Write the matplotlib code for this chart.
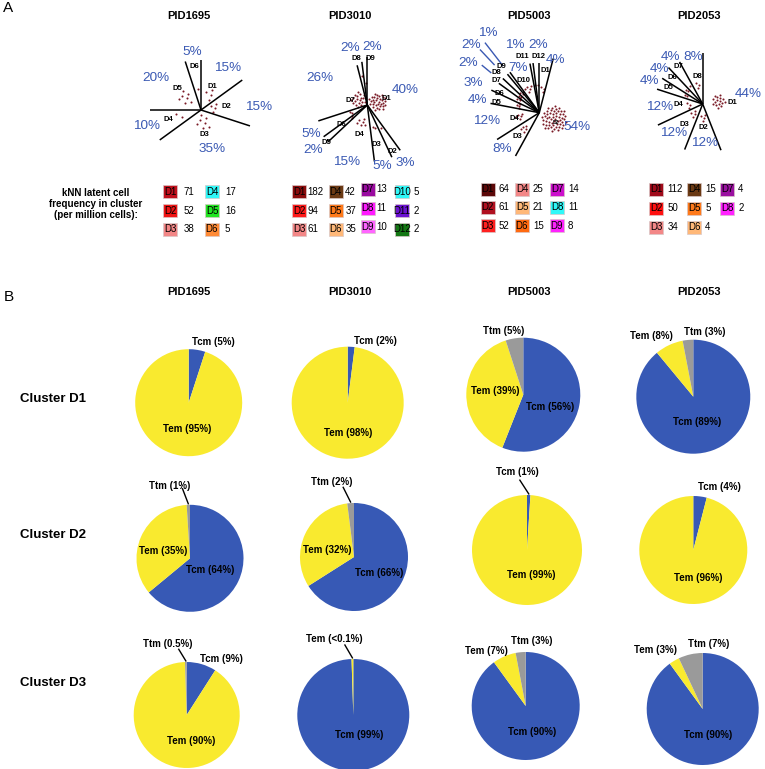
import numpy as np
import matplotlib
matplotlib.use("Agg")
import matplotlib.pyplot as plt
from matplotlib.patches import Rectangle

plt.rcParams['font.family'] = ['Liberation Sans', 'DejaVu Sans']

# ------------------------------------------------------------------ data
patients = ['PID1695', 'PID3010', 'PID5003', 'PID2053']

# Panel A: share of kNN latent cells per cluster (%)
clusters_1695 = ['D1', 'D2', 'D3', 'D4', 'D5', 'D6']
pct_1695 = [15, 15, 35, 10, 20, 5]
clusters_3010 = ['D1', 'D2', 'D3', 'D4', 'D5', 'D6', 'D7', 'D8', 'D9']
pct_3010 = [40, 3, 5, 15, 2, 5, 26, 2, 2]
clusters_5003 = ['D1', 'D2', 'D3', 'D4', 'D5', 'D6', 'D7', 'D8', 'D9', 'D10', 'D11', 'D12']
pct_5003 = [4, 54, 8, 12, 4, 3, 2, 2, 1, 7, 1, 2]
clusters_2053 = ['D1', 'D2', 'D3', 'D4', 'D5', 'D6', 'D7', 'D8']
pct_2053 = [44, 12, 12, 12, 4, 4, 4, 8]

# approximate number of cell dots drawn per cluster
dots_1695 = [4, 4, 7, 2, 7, 1]
dots_3010 = [32, 1, 2, 6, 1, 3, 20, 1, 1]
dots_5003 = [3, 55, 5, 5, 4, 4, 3, 2, 1, 5, 1, 1]
dots_2053 = [16, 4, 4, 3, 2, 2, 1, 3]

# kNN latent cell frequency in cluster (per million cells)
leg_1695 = ['D1', 'D2', 'D3', 'D4', 'D5', 'D6']
freq_1695 = [71, 52, 38, 17, 16, 5]
leg_3010 = ['D1', 'D2', 'D3', 'D4', 'D5', 'D6', 'D7', 'D8', 'D9', 'D10', 'D11', 'D12']
freq_3010 = [182, 94, 61, 42, 37, 35, 13, 11, 10, 5, 2, 2]
leg_5003 = ['D1', 'D2', 'D3', 'D4', 'D5', 'D6', 'D7', 'D8', 'D9']
freq_5003 = [64, 61, 52, 25, 21, 15, 14, 11, 8]
leg_2053 = ['D1', 'D2', 'D3', 'D4', 'D5', 'D6', 'D7', 'D8']
freq_2053 = [112, 50, 34, 15, 5, 4, 4, 2]

# Panel B: memory subset composition (%) rows = clusters D1..D3, cols = patients
subsets = ['Tcm', 'Tem', 'Ttm']
row_names = ['Cluster D1', 'Cluster D2', 'Cluster D3']
tcm = [[5, 2, 56, 89], [64, 66, 1, 4], [9, 99, 90, 90]]
tem = [[95, 98, 39, 8], [35, 32, 99, 96], [90, 0.5, 7, 3]]
ttm = [[0, 0, 5, 3], [1, 2, 0, 0], [0.5, 0, 3, 7]]
label_override = {(2, 1, 'Tem'): '<0.1'}

# ------------------------------------------------------------------ style
W, H = 765, 769
fig = plt.figure(figsize=(W / 100, H / 100), dpi=100)
ax = fig.add_axes([0, 0, 1, 1])


def Y(y):
    return H - y


BLUE_TXT = '#3a59b3'
DOT = '#7a1a25'
PIE_COL = {'Tcm': '#3759b5', 'Tem': '#f9ea2f', 'Ttm': '#9a9a9a'}

col_x = [189.2, 349.5, 528.8, 698.7]

radial = {
    'PID1695': dict(center=(201, 110), names=clusters_1695, pct=pct_1695, dots=dots_1695,
                    lengths=[50, 51, 51.5, 51, 51, 51],
                    pct_off=[(26.3, 41.7), (57.3, 3.3), (11.3, -39), (-54.3, -16), (-45, 31.7), (-8.3, 58.3)],
                    d_off=[(11.7, 24), (25, 4), (3.3, -25), (-32.7, -9.3), (-23.3, 21.7), (-6.7, 43.3)],
                    rc=[17, 12, 13, 23, 20, 21], spread=[6, 5, 8, 5, 8, 0]),
    'PID3010': dict(center=(367.3, 105), names=clusters_3010, pct=pct_3010, dots=dots_3010,
                    lengths=[48, 56, 57.7, 57, 54, 54, 51.5, 41, 43.5],
                    pct_off=[(37.7, 15), (37.7, -57.7), (15.4, -61), (-20.6, -56.7), (-54, -45),
                             (-55.6, -29), (-47.3, 26.7), (-17.3, 56.7), (4.4, 58.3)],
                    d_off=[(18.7, 6.7), (25.4, -46.7), (9.4, -40), (-8.3, -30), (-40.6, -37.7),
                           (-25.6, -19.3), (-17.3, 5), (-11.3, 46.7), (2.7, 46.7)],
                    rc=[11, 27, 24, 18, 20, 18, 10, 30, 22], spread=[9, 0, 2, 5, 0, 3, 8, 0, 0]),
    'PID5003': dict(center=(539.3, 112.7), names=clusters_5003, pct=pct_5003, dots=dots_5003,
                    lengths=[50, 56, 49.4, 50, 49.7, 53, 50, 50, 50, 50, 50, 50],
                    pct_off=[(16.7, 52.7), (37.4, -14.6), (-37.6, -36.6), (-52.6, -8), (-61.6, 12.7),
                             (-66, 29.4), (-71, 50), (-68.6, 67.7), (-52, 79.4), (-21, 44.4),
                             (-24.3, 67.7), (-1.6, 67.7)],
                    d_off=[(6.4, 41.7), (16.7, -10), (-21.6, -24), (-25, -5.6), (-42.6, 10),
                           (-40, 19.4), (-42.6, 31.7), (-42.6, 40), (-37.6, 46.7), (-15.3, 31.7),
                           (-17, 56), (-1, 56)],
                    d_size={1: 3.5},
                    leaders={6: (63, 74), 7: (66, 86), 8: (60, 88)},
                    rc=[24, 16, 22, 20, 22, 24, 25, 26, 26, 26, 28, 28],
                    spread=[3, 13, 4, 4, 3, 3, 2, 2, 0, 4, 0, 0]),
    'PID2053': dict(center=(702.7, 104), names=clusters_2053, pct=pct_2053, dots=dots_2053,
                    lengths=[50.7, 49.7, 49, 49.5, 48, 48, 50, 48],
                    pct_off=[(46, 10), (2.3, -39.3), (-29.4, -28.7), (-43.4, -2.7), (-52.7, 23),
                             (-42.7, 34.7), (-32, 47), (-10, 46.7)],
                    d_off=[(29.5, 1.5), (0.6, -23.7), (-18.7, -20), (-24.4, 0), (-34.4, 16.7),
                           (-30.4, 26.7), (-24, 38), (-5, 28)],
                    rc=[16, 14, 14, 14, 18, 20, 22, 20], spread=[7, 4, 4, 3, 2, 2, 0, 4]),
}

legend = {
    'PID1695': dict(names=leg_1695, freq=freq_1695,
                    colors=['#c0101c', '#f01414', '#f38787', '#30f8f8', '#22e622', '#ff8a35'],
                    sq_x=[163.3, 205], rows=[191.7, 210.7, 229.3], gap=[6, 6], yshift=[0, 0]),
    'PID3010': dict(names=leg_3010, freq=freq_3010,
                    colors=['#8b0c0c', '#ff1a1a', '#f38787', '#6b3a14', '#ff7a1a', '#ffb878',
                            '#9a0aa0', '#ff1aff', '#ff66ff', '#30f8f8', '#6a12d0', '#137713'],
                    sq_x=[292.3, 328.7, 360.7, 395], rows=[191.7, 210.7, 229.3],
                    gap=[1.5, 2.5, 2, 5], yshift=[0, 0, -2.5, 0]),
    'PID5003': dict(names=leg_5003, freq=freq_5003,
                    colors=['#5c0808', '#b01020', '#ff2020', '#f38787', '#ffb878', '#ff6a10',
                            '#cc10cc', '#30f8f8', '#ff22ff'],
                    sq_x=[480.7, 515, 550], rows=[189, 207.3, 225.7], gap=[3.5, 4, 4], yshift=[0, 0, 0]),
    'PID2053': dict(names=leg_2053, freq=freq_2053,
                    colors=['#a00a1a', '#ff1010', '#f38787', '#6b3a14', '#ff7a1a', '#ffb878',
                            '#9a10a0', '#ff22ff'],
                    sq_x=[649.3, 687.3, 720.3], rows=[189, 208, 227], gap=[4, 4, 4], yshift=[0, 0, 0]),
}

pie_geom = [
    [(188.7, 402.7, 53.5), (347.7, 402.7, 56), (523.3, 394.7, 57), (693.3, 396.7, 57)],
    [(190, 558.3, 53.5), (354, 557, 54), (527, 550, 55), (693.3, 550, 54)],
    [(186.7, 715, 53), (353.3, 715, 56), (525.7, 706, 54), (702.7, 709, 56)],
]
pie_lab = [
    [{'Tcm': (0.46, 1.13), 'Tem': (-0.03, -0.5)},
     {'Tcm': (0.5, 1.1), 'Tem': (0, -0.54)},
     {'Ttm': (-0.34, 1.12), 'Tem': (-0.49, 0.07), 'Tcm': (0.47, -0.21)},
     {'Tem': (-0.74, 1.06), 'Ttm': (0.2, 1.14), 'Tcm': (0.07, -0.44)}],
    [{'Ttm': (-0.38, 1.36), 'Tem': (-0.5, 0.13), 'Tcm': (0.38, -0.22)},
     {'Ttm': (-0.41, 1.38), 'Tem': (-0.5, 0.13), 'Tcm': (0.46, -0.3)},
     {'Tcm': (-0.17, 1.41), 'Tem': (0.07, -0.45)},
     {'Tcm': (0.49, 1.17), 'Tem': (0.09, -0.51)}],
    [{'Ttm': (-0.35, 1.34), 'Tcm': (0.66, 1.05), 'Tem': (0.09, -0.49)},
     {'Tem': (-0.34, 1.35), 'Tcm': (0.11, -0.36)},
     {'Tem': (-0.73, 1.02), 'Ttm': (0.11, 1.2), 'Tcm': (0.11, -0.48)},
     {'Tem': (-0.85, 1.05), 'Ttm': (0.11, 1.16), 'Tcm': (0.1, -0.46)}],
]
# leader lines: (row, col, subset) -> start offset (radius units)
pie_leaders = {(1, 0, 'Ttm'): (-0.14, 1.30), (1, 1, 'Ttm'): (-0.2, 1.29),
               (1, 2, 'Tcm'): (-0.13, 1.27), (2, 0, 'Ttm'): (-0.15, 1.24),
               (2, 1, 'Tem'): (-0.15, 1.25)}

# ------------------------------------------------------------------ panel A
ax.text(3, Y(8), 'A', fontsize=11, ha='left', va='center')
for name, x in zip(patients, col_x):
    ax.text(x, Y(15.7), name, fontsize=8, fontweight='bold', ha='center', va='center')

golden = np.pi * (3 - np.sqrt(5))
for name in patients:
    d = radial[name]
    cx, cy = d['center']
    cy = Y(cy)
    pct = np.array(d['pct'], dtype=float)
    cum = np.concatenate([[0], np.cumsum(pct)[:-1]])
    starts = np.deg2rad(90 - 3.6 * cum)
    mids = np.deg2rad(90 - 3.6 * (cum + pct / 2))
    # cell dots
    xs, ys = [], []
    for n, m, rc, sp in zip(d['dots'], mids, d['rc'], d['spread']):
        ccx, ccy = cx + rc * np.cos(m), cy + rc * np.sin(m)
        for k in range(n):
            rr = sp * np.sqrt((k + 0.5) / n)
            th = k * golden
            xs.append(ccx + rr * np.cos(th))
            ys.append(ccy + rr * np.sin(th))
    ax.scatter(xs, ys, s=2.2, color=DOT, linewidths=0, zorder=2)
    # sector boundary lines
    for a, L in zip(starts, d['lengths']):
        ax.plot([cx, cx + L * np.cos(a)], [cy, cy + L * np.sin(a)], color='black', lw=1.1,
                solid_capstyle='butt', zorder=3)
    # blue leader lines
    for i, (r0, r1) in d.get('leaders', {}).items():
        m = mids[i]
        ax.plot([cx + r0 * np.cos(m), cx + r1 * np.cos(m)], [cy + r0 * np.sin(m), cy + r1 * np.sin(m)],
                color=BLUE_TXT, lw=1.0, zorder=3)
    # labels
    for i, (lab, p) in enumerate(zip(d['names'], d['pct'])):
        dx, dy = d['pct_off'][i]
        ax.text(cx + dx, cy + dy, f'{p}%', color=BLUE_TXT, fontsize=9.7, ha='center', va='center', zorder=4)
        dx, dy = d['d_off'][i]
        ax.text(cx + dx, cy + dy, lab, fontsize=d.get('d_size', {}).get(i, 5.5), fontweight='bold',
                ha='center', va='center', zorder=4)

# legend header
ax.text(96, Y(204), 'kNN latent cell\nfrequency in cluster\n(per million cells):', fontsize=7,
        fontweight='bold', ha='center', va='center', linespacing=1.15)

SQ_W, SQ_H = 14, 13
for name in patients:
    g = legend[name]
    for i, (lab, f, c) in enumerate(zip(g['names'], g['freq'], g['colors'])):
        col, row = divmod(i, 3)
        x0 = g['sq_x'][col]
        yc = g['rows'][row] + g['yshift'][col]
        ax.add_patch(Rectangle((x0, Y(yc) - SQ_H / 2), SQ_W, SQ_H, facecolor=c,
                               edgecolor='#d8c8c8', lw=0.5, zorder=3))
        ax.text(x0 + SQ_W / 2, Y(yc), lab, fontsize=7, ha='center', va='center', zorder=4)
        ax.text(x0 + SQ_W + g['gap'][col], Y(yc), str(f), fontsize=7, ha='left', va='center')

# ------------------------------------------------------------------ panel B
ax.text(4, Y(296.7), 'B', fontsize=11, ha='left', va='center')
for name, x in zip(patients, col_x):
    ax.text(x, Y(291.7), name, fontsize=8, fontweight='bold', ha='center', va='center')
for rn, y in zip(row_names, [399, 535, 682.7]):
    ax.text(20, Y(y), rn, fontsize=9.5, fontweight='bold', ha='left', va='center')


def fmt(v):
    return f'{v:g}'


for r in range(3):
    for c in range(4):
        cx, cy, R = pie_geom[r][c]
        cy = Y(cy)
        vals = [tcm[r][c], tem[r][c], ttm[r][c]]
        ax.pie(vals, colors=[PIE_COL[s] for s in subsets], startangle=90, counterclock=False,
               center=(cx, cy), radius=R, wedgeprops=dict(linewidth=0), frame=True)
        for s, v in zip(subsets, vals):
            if s not in pie_lab[r][c]:
                continue
            dx, dy = pie_lab[r][c][s]
            txt = label_override.get((r, c, s), fmt(v))
            ax.text(cx + dx * R, cy + dy * R, f'{s} ({txt}%)', fontsize=7, fontweight='bold',
                    ha='center', va='center', zorder=5)
        # leader lines to thin wedges
        cum = 0
        tot = sum(vals)
        for s, v in zip(subsets, vals):
            key = (r, c, s)
            if key in pie_leaders:
                m = np.deg2rad(90 - 360 * (cum + v / 2) / tot)
                sx, sy = pie_leaders[key]
                ax.plot([cx + sx * R, cx + 1.02 * R * np.cos(m)],
                        [cy + sy * R, cy + 1.02 * R * np.sin(m)], color='black', lw=1.0, zorder=5)
            cum += v

ax.set_xlim(0, W)
ax.set_ylim(0, H)
ax.set_aspect('auto')
ax.axis('off')
fig.savefig('out.png', dpi=100, facecolor='white')
